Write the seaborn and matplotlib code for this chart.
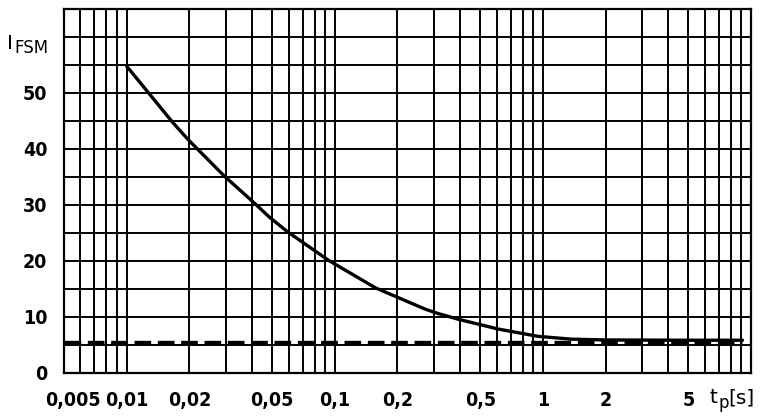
import numpy as np
import pandas as pd
import matplotlib
matplotlib.use("Agg")
import matplotlib.pyplot as plt
import matplotlib.transforms as mtransforms
import seaborn as sns

# ---- data ----
t_curve = [0.01, 0.0166, 0.0196, 0.0294, 0.0401, 0.0483, 0.0589, 0.0935,
           0.157, 0.272, 0.315, 0.392, 0.61, 0.946, 1.36, 2.0, 5.0, 9.1]
i_curve = [54.8, 44.8, 41.8, 35.2, 30.7, 27.9, 25.3, 20.1,
           15.2, 11.4, 10.6, 9.6, 7.85, 6.55, 6.05, 5.9, 5.85, 5.85]
t_dash = [0.005, 9.1]
i_dash = [5.6, 5.6]

x_ticks = [0.005, 0.01, 0.02, 0.05, 0.1, 0.2, 0.5, 1, 2, 5]
x_labels = ["0,005", "0,01", "0,02", "0,05", "0,1", "0,2", "0,5", "1", "2", "5"]
y_ticks = [0, 10, 20, 30, 40, 50]
y_labels = ["0", "10", "20", "30", "40", "50"]

sns.set_theme(style="white")
plt.rcParams['font.family'] = ['DejaVu Sans']

fig = plt.figure(figsize=(7.64, 4.16), dpi=100)
ax = fig.add_axes([64/764, 1-373/416, (751-64)/764, (373-9)/416])

df_c = pd.DataFrame({"t": t_curve, "i": i_curve})
df_d = pd.DataFrame({"t": t_dash, "i": i_dash})
sns.lineplot(data=df_d, x="t", y="i", ax=ax, color="black", lw=2.4,
             linestyle=(0, (5, 2)), estimator=None, sort=False)
sns.lineplot(data=df_c, x="t", y="i", ax=ax, color="black", lw=2.4,
             estimator=None, sort=False)

ax.set_xscale("log")
ax.set_xlim(0.005, 10)
ax.set_ylim(0, 65)

# grid lines
minor = []
for dec in [0.001, 0.01, 0.1, 1]:
    for k in range(1, 10):
        v = k * dec
        if 0.005 <= v <= 10:
            minor.append(v)
ax.set_xticks(minor, minor=True)
ax.set_yticks(np.arange(0, 66, 5), minor=True)

ax.set_xticks(x_ticks)
ax.set_xticklabels(x_labels)
ax.set_yticks(y_ticks)
ax.set_yticklabels(y_labels)
ax.grid(which="both", axis="both", color="black", lw=1.4)
ax.set_axisbelow(True)

ax.tick_params(axis="both", which="both", length=0, labelsize=14, colors="black")
ax.tick_params(axis="x", pad=13)
ax.tick_params(axis="y", pad=12)
for lab in ax.get_xticklabels() + ax.get_yticklabels():
    lab.set_fontstretch("condensed")
    lab.set_fontweight("bold")
# shift first x label right as in the reference
first = ax.get_xticklabels()[0]
first.set_transform(first.get_transform() + mtransforms.ScaledTranslation(9/100, 0, fig.dpi_scale_trans))

for s in ax.spines.values():
    s.set_visible(True)
    s.set_color("black")
    s.set_linewidth(1.6)

ax.set_xlabel("")
ax.set_ylabel("")

# axis titles
fig.text(7/764, 1-49/416, "I", fontsize=14.5, color="black", ha="left", va="baseline")
fig.text(14/764, 1-53/416, "FSM", fontsize=12, color="black", ha="left", va="baseline")
fig.text(709/764, 1-403/416, "t", fontsize=14.5, color="black", ha="left", va="baseline")
fig.text(718/764, 1-408/416, "p", fontsize=12, color="black", ha="left", va="baseline")
fig.text(728/764, 1-403/416, "[s]", fontsize=14.5, color="black", ha="left", va="baseline")

fig.savefig("out.png", dpi=100, facecolor="white")
